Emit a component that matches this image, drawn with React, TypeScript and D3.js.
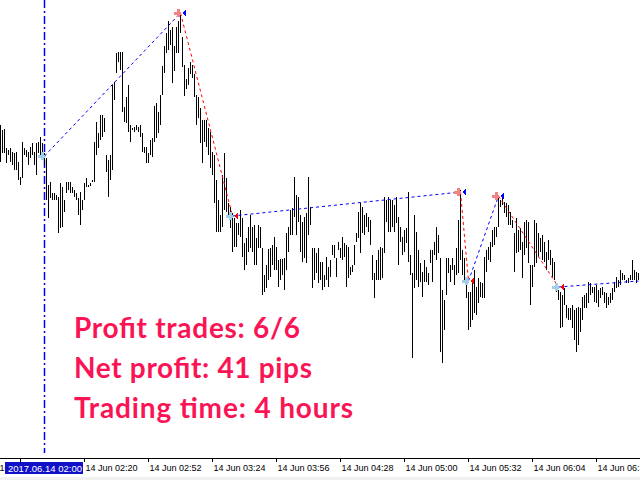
import React from "react";
import * as d3 from "d3";

// 1-minute bars, EURUSD-like, prices in points above 1.11800 (one bar per minute from 01:38)
const barHigh = [
  375,370,371,352,350,352,348,347,348,338,
  323,358,352,350,348,353,357,348,357,358,
  363,357,347,342,315,318,307,307,305,303,
  317,313,300,318,318,318,313,310,307,302,
  308,300,317,322,315,317,320,358,378,367,
  385,385,382,345,340,345,415,418,447,448,
  448,448,393,403,415,375,372,373,375,373,
  375,367,353,353,347,360,362,394,397,388,
  405,434,454,467,479,470,473,454,473,479,
  487,463,435,421,432,438,435,426,405,403,
  392,380,380,380,372,368,348,345,320,300,
  285,325,347,322,297,293,287,282,277,277,
  290,282,257,262,273,285,273,275,262,275,
  273,252,225,235,251,252,255,263,253,240,
  241,241,242,267,273,290,292,323,305,303,
  285,278,283,287,323,293,252,252,247,252,
  238,238,225,243,233,240,255,255,242,258,
  252,263,257,255,253,233,235,255,267,288,
  297,293,285,287,283,280,245,227,240,250,
  253,252,303,300,303,300,300,295,303,283,
  273,263,270,272,308,245,227,285,268,250,
  237,228,240,233,227,250,250,258,273,265,
  242,210,200,242,242,235,242,235,252,280,
  310,250,242,215,208,208,218,230,213,222,
  218,217,243,250,253,258,270,273,273,303,
  300,302,298,297,295,288,280,267,282,270,
  272,258,278,280,278,235,235,280,277,267,
  262,265,258,248,260,250,242,238,217,210,
  208,205,212,195,192,192,195,190,192,193,
  192,203,205,207,218,217,213,213,215,210,
  212,213,208,207,203,207,212,218,223,220,
  230,227,225,220,222,225,240,230,228,227,
];
const barLow = [
  338,347,347,337,345,338,335,330,330,320,
  315,322,345,343,335,342,345,335,325,347,
  345,343,335,300,282,302,300,300,300,267,
  272,273,288,307,310,307,307,303,300,285,
  275,290,300,313,313,314,318,318,345,352,
  360,363,368,328,303,320,330,400,427,438,
  430,388,378,377,368,358,370,368,370,368,
  363,348,347,337,337,345,343,358,362,367,
  375,405,427,447,450,455,417,429,447,447,
  467,433,404,411,415,426,422,403,375,382,
  357,337,358,353,345,332,325,297,268,268,
  268,273,290,288,282,272,248,253,253,265,
  263,243,230,235,248,252,248,235,235,252,
  252,205,208,212,220,223,235,230,230,213,
  220,225,210,230,248,265,265,283,265,278,
  248,238,242,237,265,275,212,220,227,217,
  220,210,213,220,213,223,245,242,223,250,
  242,240,243,213,222,225,228,235,258,262,
  247,267,265,273,268,255,220,202,220,220,
  220,222,247,278,268,268,273,268,277,235,
  258,245,248,257,238,225,142,212,220,213,
  218,203,218,218,215,237,218,245,240,247,
  148,137,170,205,227,218,230,215,225,227,
  240,225,220,202,170,173,180,187,185,197,
  203,202,202,228,240,238,253,255,263,273,
  293,295,287,283,275,275,272,228,247,248,
  250,222,245,252,237,195,213,233,237,243,
  248,240,238,230,240,235,223,220,208,200,
  172,173,195,182,180,180,172,160,148,155,
  168,180,192,192,197,205,207,198,197,193,
  202,205,197,192,195,197,200,208,212,213,
  215,220,220,217,217,220,220,220,217,220,
];

// trades: bar index of open/close and prices (points)
const tradeType = ["buy", "sell", "buy", "sell", "buy", "sell", "buy"];
const tradeOpenBar = [22, 90, 116, 230, 234, 249, 279];
const tradeOpenPrice = [344, 487, 284, 308, 219, 304, 213];
const tradeCloseBar = [90, 116, 230, 234, 249, 279, 319];
const tradeClosePrice = [487, 284, 308, 219, 304, 213, 219];
const tradeClosed = [true, true, true, true, true, true, false];

const tickTimes = ["01:16", "01:48", "02:20", "02:52", "03:24", "03:56", "04:28", "05:00", "05:32", "06:04", "06:36"];
const tickLabels = tickTimes.map((t) => "14 Jun " + t);
const crosshairTime = "02:00";
const crosshairLabel = "2017.06.14 02:00";

const infoLines = ["Profit trades: 6/6", "Net profit: 41 pips", "Trading time: 4 hours"];
const infoWidths = [226, 238, 279];

const W = 640;
const H = 480;
const axisY = 458;
const boxX0 = 5;
const boxX1 = 83;

const mkDate = (hm: string) => {
  const [h, m] = hm.split(":").map(Number);
  return new Date(2017, 5, 14, h, m);
};
const startTime = mkDate("01:38");
const barTime = (i: number) => new Date(startTime.getTime() + i * 60000);

export default function App() {
  const x = d3.scaleTime().domain([startTime, mkDate("06:58")]).range([0, 640]);
  const y = d3.scaleLinear().domain([60, 500]).range([440, 0]);
  const px = (i: number) => Math.round(x(barTime(i))) + 0.5;

  const buyCol = "#0000FF";
  const sellCol = "#FF0000";
  const openBuyCol = "#9FD0E6";
  const openSellCol = "#F08484";

  const cx = Math.round(x(mkDate(crosshairTime))) + 0.5;

  const plus = (x0: number, y0: number) =>
    `M${x0 - 4},${y0 - 1} h7 v3 h-7 z M${x0 - 1},${y0 - 4} h3 v8 h-3 z`;
  const tri = (x0: number, y0: number) => `M${x0},${y0} L${x0 + 4},${y0 - 4} L${x0 + 4},${y0 + 4} Z`;

  return (
    <svg
      width={W}
      height={H}
      style={{ position: "fixed", left: 0, top: 0, background: "#fff" }}
      fontFamily="'Liberation Sans', Arial, sans-serif"
    >
      <rect x={0} y={0} width={W} height={H} fill="#fff" />
      <rect x={0} y={477} width={W} height={3} fill="#F0F0F0" />

      {/* crosshair vertical line */}
      <line x1={cx} x2={cx} y1={0} y2={axisY - 5} stroke="#0000FF" strokeWidth={1.5} strokeDasharray="8,3,2,3" />

      {/* bars */}
      <g stroke="#000" strokeWidth={1} shapeRendering="crispEdges">
        {barHigh.map((h, i) => {
          const yh = Math.round(y(h));
          let yl = Math.round(y(barLow[i]));
          if (yl <= yh) yl = yh + 1;
          return <line key={i} x1={px(i)} x2={px(i)} y1={yh} y2={yl} />;
        })}
      </g>

      {/* trade lines */}
      <g strokeWidth={1} fill="none">
        {tradeType.map((t, k) => (
          <line
            key={k}
            x1={px(tradeOpenBar[k])}
            y1={y(tradeOpenPrice[k])}
            x2={px(tradeCloseBar[k])}
            y2={y(tradeClosePrice[k])}
            stroke={t === "buy" ? buyCol : sellCol}
            strokeDasharray="3,3"
          />
        ))}
      </g>

      {/* markers */}
      <g shapeRendering="crispEdges">
        {tradeType.map((t, k) => (
          <path
            key={"o" + k}
            d={plus(Math.round(px(tradeOpenBar[k])) - 3, Math.round(y(tradeOpenPrice[k])))}
            fill={t === "buy" ? openBuyCol : openSellCol}
          />
        ))}
        {tradeType.map((t, k) =>
          tradeClosed[k] ? (
            <path
              key={"c" + k}
              d={tri(Math.round(px(tradeCloseBar[k])) + 1, Math.round(y(tradeClosePrice[k])))}
              fill={t === "buy" ? buyCol : sellCol}
            />
          ) : null
        )}
      </g>

      {/* info text */}
      {infoLines.map((s, k) => (
        <text
          key={k}
          x={74}
          y={338 + k * 40}
          fill="#FA1455"
          fontFamily="Lato, 'Open Sans', sans-serif"
          fontWeight={700}
          fontSize={28}
          textLength={infoWidths[k]}
        >
          {s}
        </text>
      ))}

      {/* time axis */}
      <line x1={0} x2={W} y1={axisY + 0.5} y2={axisY + 0.5} stroke="#000" />
      {tickTimes.map((t, k) => {
        const tx = Math.round(x(mkDate(t))) + 0.5;
        const hidden = tx > boxX0 && tx < boxX1;
        return (
          <g key={k}>
            <line x1={tx} x2={tx} y1={axisY} y2={axisY + 4} stroke="#000" />
            {hidden ? null : (
              <text x={tx + 1} y={471} fontSize={9} fill="#000">
                {tickLabels[k]}
              </text>
            )}
          </g>
        );
      })}
      <rect x={boxX0} y={462} width={boxX1 - boxX0} height={12} fill="#1010C8" />
      <text x={8} y={471.5} fontSize={9.5} fill="#fff">
        {crosshairLabel}
      </text>
    </svg>
  );
}
